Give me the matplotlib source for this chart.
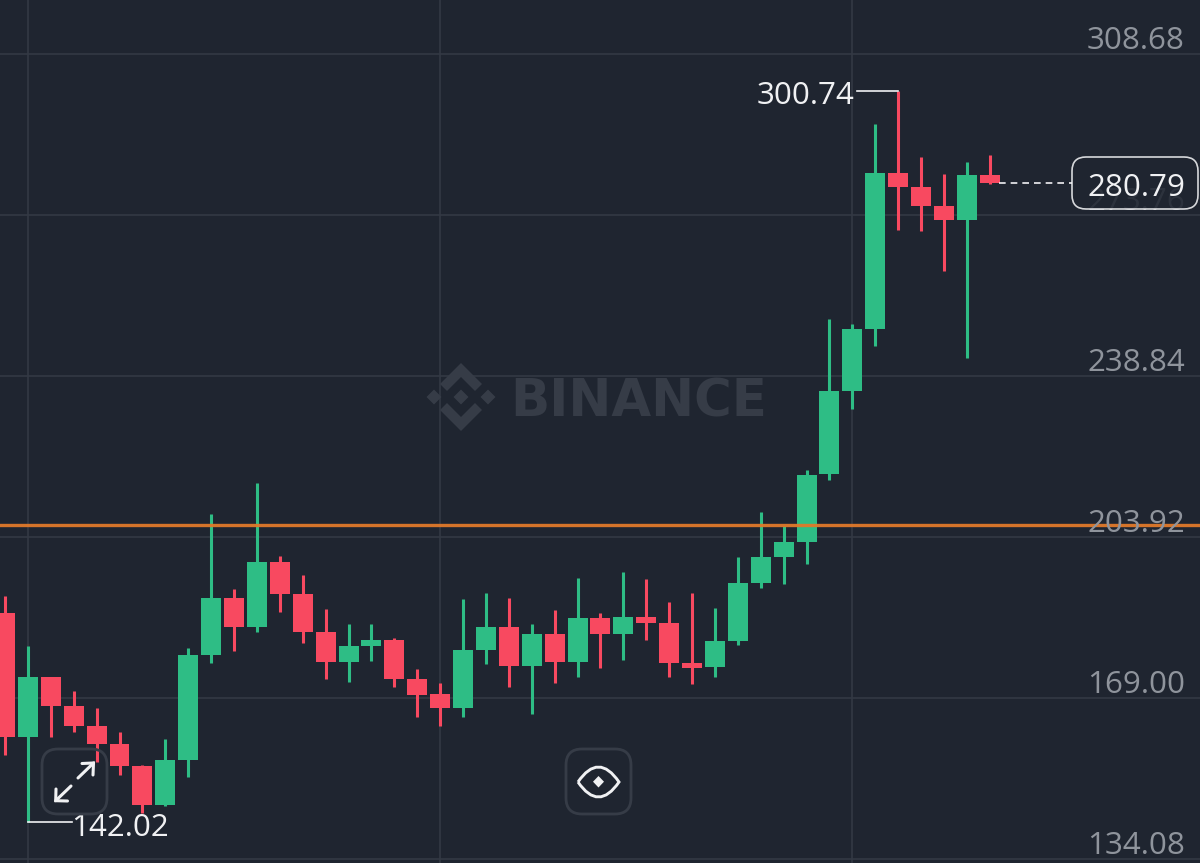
"""Candlestick chart of a Binance mobile screenshot, dark theme."""

import matplotlib
matplotlib.use('Agg')  # no display in the sandbox
import matplotlib.pyplot as plt
import numpy as np
from matplotlib.patches import FancyBboxPatch, PathPatch, Polygon
from matplotlib.path import Path

# OHLC values
opens = [187.50, 160.48, 173.49, 167.27, 162.93, 159.02, 154.32, 145.73, 155.55, 178.33, 190.69,
         184.46, 198.56, 191.56, 183.32, 176.74, 180.21, 181.58, 173.12, 169.80, 166.90, 179.48,
         184.40, 175.88, 182.82, 176.87, 186.35, 182.82, 186.50, 185.33, 176.66, 175.66, 181.30,
         194.01, 199.58, 202.90, 217.58, 235.59, 248.97, 282.80, 279.90, 275.78, 272.61, 282.50]
highs = [191.12, 180.28, 173.49, 170.59, 166.83, 161.69, 154.54, 160.04, 179.78, 208.84, 192.58,
         215.57, 199.80, 195.68, 188.37, 184.99, 185.12, 181.95, 175.23, 172.32, 190.41, 191.84,
         190.69, 184.99, 188.02, 194.96, 187.50, 196.26, 194.75, 189.89, 191.78, 188.46, 199.65,
         209.34, 206.31, 218.45, 251.20, 250.12, 293.50, 300.74, 286.40, 282.65, 285.25, 286.77]
lows = [156.64, 142.02, 160.48, 161.69, 155.19, 152.30, 144.00, 145.58, 151.93, 176.53, 179.19,
        183.32, 187.59, 181.00, 173.12, 172.54, 177.09, 171.32, 164.88, 162.93, 164.81, 176.44,
        171.32, 165.53, 172.19, 173.62, 175.57, 177.18, 181.65, 173.56, 172.10, 173.49, 180.43,
        192.86, 193.79, 198.06, 216.28, 231.68, 245.28, 270.44, 270.35, 261.61, 242.68, 280.42]
closes = [160.48, 173.49, 167.27, 162.93, 159.02, 154.32, 145.73, 155.55, 178.33, 190.76, 184.46,
          198.56, 191.56, 183.32, 176.74, 180.21, 181.58, 173.12, 169.65, 166.83, 179.48, 184.40,
          175.88, 182.82, 176.87, 186.35, 182.82, 186.50, 185.33, 176.66, 175.51, 181.30, 194.01,
          199.58, 202.90, 217.37, 235.59, 248.97, 282.80, 279.90, 275.78, 272.61, 282.50, 280.79]

price_ticks = [308.68, 273.76, 238.84, 203.92, 169.00, 134.08]
time_grid = [1, 19, 37]  # candle index of the vertical grid lines
support_level = 206.52
last_price = 280.79
max_label = '300.74'
min_label = '142.02'

BG = '#1f2530'
GREEN = '#2ebd85'
RED = '#f84960'
GRID = '#343a45'
AXIS_TEXT = '#8f949c'
WHITE = '#f0f1f3'
FAINT = '#363c47'
ORANGE = '#e0792a'
LABEL_SIZE = 22.6

plt.rcParams['font.family'] = ['Open Sans', 'DejaVu Sans']

fig = plt.figure(figsize=(12, 8.63), dpi=100, facecolor=BG)
ax = fig.add_axes([0, 0, 1, 1], facecolor=BG)
ax.set_xlim(-0.218, 52.18)
ax.set_ylim(133.21, 320.39)
ax.axis('off')

# overlay in screen pixels for the watermark, buttons and labels
ui = fig.add_axes([0, 0, 1, 1], facecolor='none', zorder=5)
ui.set_xlim(0, 1200)
ui.set_ylim(863, 0)
ui.axis('off')

# grid
for tick in price_ticks:
    ax.axhline(tick, color=GRID, lw=1.1, zorder=1)
for idx in time_grid:
    ax.axvline(idx, color=GRID, lw=1.1, zorder=1)

# watermark sits under the candles
wm_cx, wm_cy = 461, 397
logo_shapes = [
    [(0, -34), (21, -13), (14, -6), (0, -20), (-14, -6), (-21, -13)],
    [(0, 34), (21, 13), (14, 6), (0, 20), (-14, 6), (-21, 13)],
    [(0, -7.5), (7.5, 0), (0, 7.5), (-7.5, 0)],
    [(-27, -7.5), (-19.5, 0), (-27, 7.5), (-34.5, 0)],
    [(27, -7.5), (34.5, 0), (27, 7.5), (19.5, 0)],
]
for shape in logo_shapes:
    pts = [(wm_cx + dx, wm_cy + dy) for dx, dy in shape]
    ax.add_patch(Polygon(pts, closed=True, fc=FAINT, ec='none', zorder=2,
                         transform=ui.transData))
ax.text(639, 397, 'BINANCE', color=FAINT, fontsize=37, fontweight='bold', family='DejaVu Sans',
        ha='center', va='center_baseline', zorder=2, transform=ui.transData)

# candles
x = np.arange(len(opens))
o, h, l, c = map(np.array, (opens, highs, lows, closes))
colors = [GREEN if cl > op else RED for op, cl in zip(o, c)]
ax.vlines(x, l, h, colors=colors, lw=2.2, zorder=3)
ax.bar(x, np.abs(c - o), bottom=np.minimum(o, c), width=0.873, color=colors, zorder=4)

# support line, slightly see-through over the candles
ax.axhline(support_level, color=ORANGE, lw=2.4, alpha=0.95, zorder=6)

# price axis labels
for tick in price_ticks:
    ax.annotate(f'{tick:.2f}', xy=(1, tick), xycoords=('axes fraction', 'data'),
                xytext=(-15, 16), textcoords='offset pixels', color=AXIS_TEXT,
                fontsize=LABEL_SIZE, ha='right', va='center_baseline', zorder=7)

# high / low callouts
ui.text(855, 92, max_label, color=WHITE, fontsize=LABEL_SIZE, ha='right', va='center_baseline', zorder=3)
ui.text(71.5, 824, min_label, color=WHITE, fontsize=LABEL_SIZE, ha='left', va='center_baseline', zorder=3)
ui.plot([857, 898], [91, 91], color=WHITE, lw=1.2, zorder=3)
ui.plot([28, 72], [822, 822], color=WHITE, lw=1.2, zorder=3)

# last price tag
ax.hlines(last_price, 43.4, 46.6, color=WHITE, lw=1.2, linestyles=(0, (4, 3)), zorder=5)
ui.add_patch(FancyBboxPatch((1082, 167), 106, 32, boxstyle='round,pad=10,rounding_size=14',
                            fc=BG, ec=WHITE, lw=1.2, alpha=0.88, zorder=4))
ui.text(1136.5, 184, f'{last_price:.2f}', color=WHITE, fontsize=LABEL_SIZE, ha='center',
        va='center_baseline', zorder=5)

# expand and eye buttons
for bx in (42, 566):
    ui.add_patch(FancyBboxPatch((bx + 12, 761), 41, 41, boxstyle='round,pad=12,rounding_size=16',
                                fc='none', ec=FAINT, lw=2, zorder=3))
arrow_lines = [
    [(78, 778), (93.5, 763)],
    [(82, 763.5), (93.5, 763), (93, 775)],
    [(71, 786), (55.7, 800.7)],
    [(56, 789), (55.7, 800.7), (67.5, 801)],
]
for seg in arrow_lines:
    xs, ys = zip(*seg)
    ui.plot(xs, ys, color=WHITE, lw=2.2, solid_capstyle='round', solid_joinstyle='miter', zorder=4)
eye_path = Path([(578, 782), (598.5, 752), (619, 782), (598.5, 812), (578, 782)],
                [Path.MOVETO, Path.CURVE3, Path.CURVE3, Path.CURVE3, Path.CURVE3])
ui.add_patch(PathPatch(eye_path, fc='none', ec=WHITE, lw=2.1, zorder=4))
ui.add_patch(Polygon([(598.5, 776), (604, 781.7), (598.5, 787.5), (593, 781.7)],
                     closed=True, fc=WHITE, ec='none', zorder=4))

fig.savefig('out.png', dpi=100, facecolor=BG)
